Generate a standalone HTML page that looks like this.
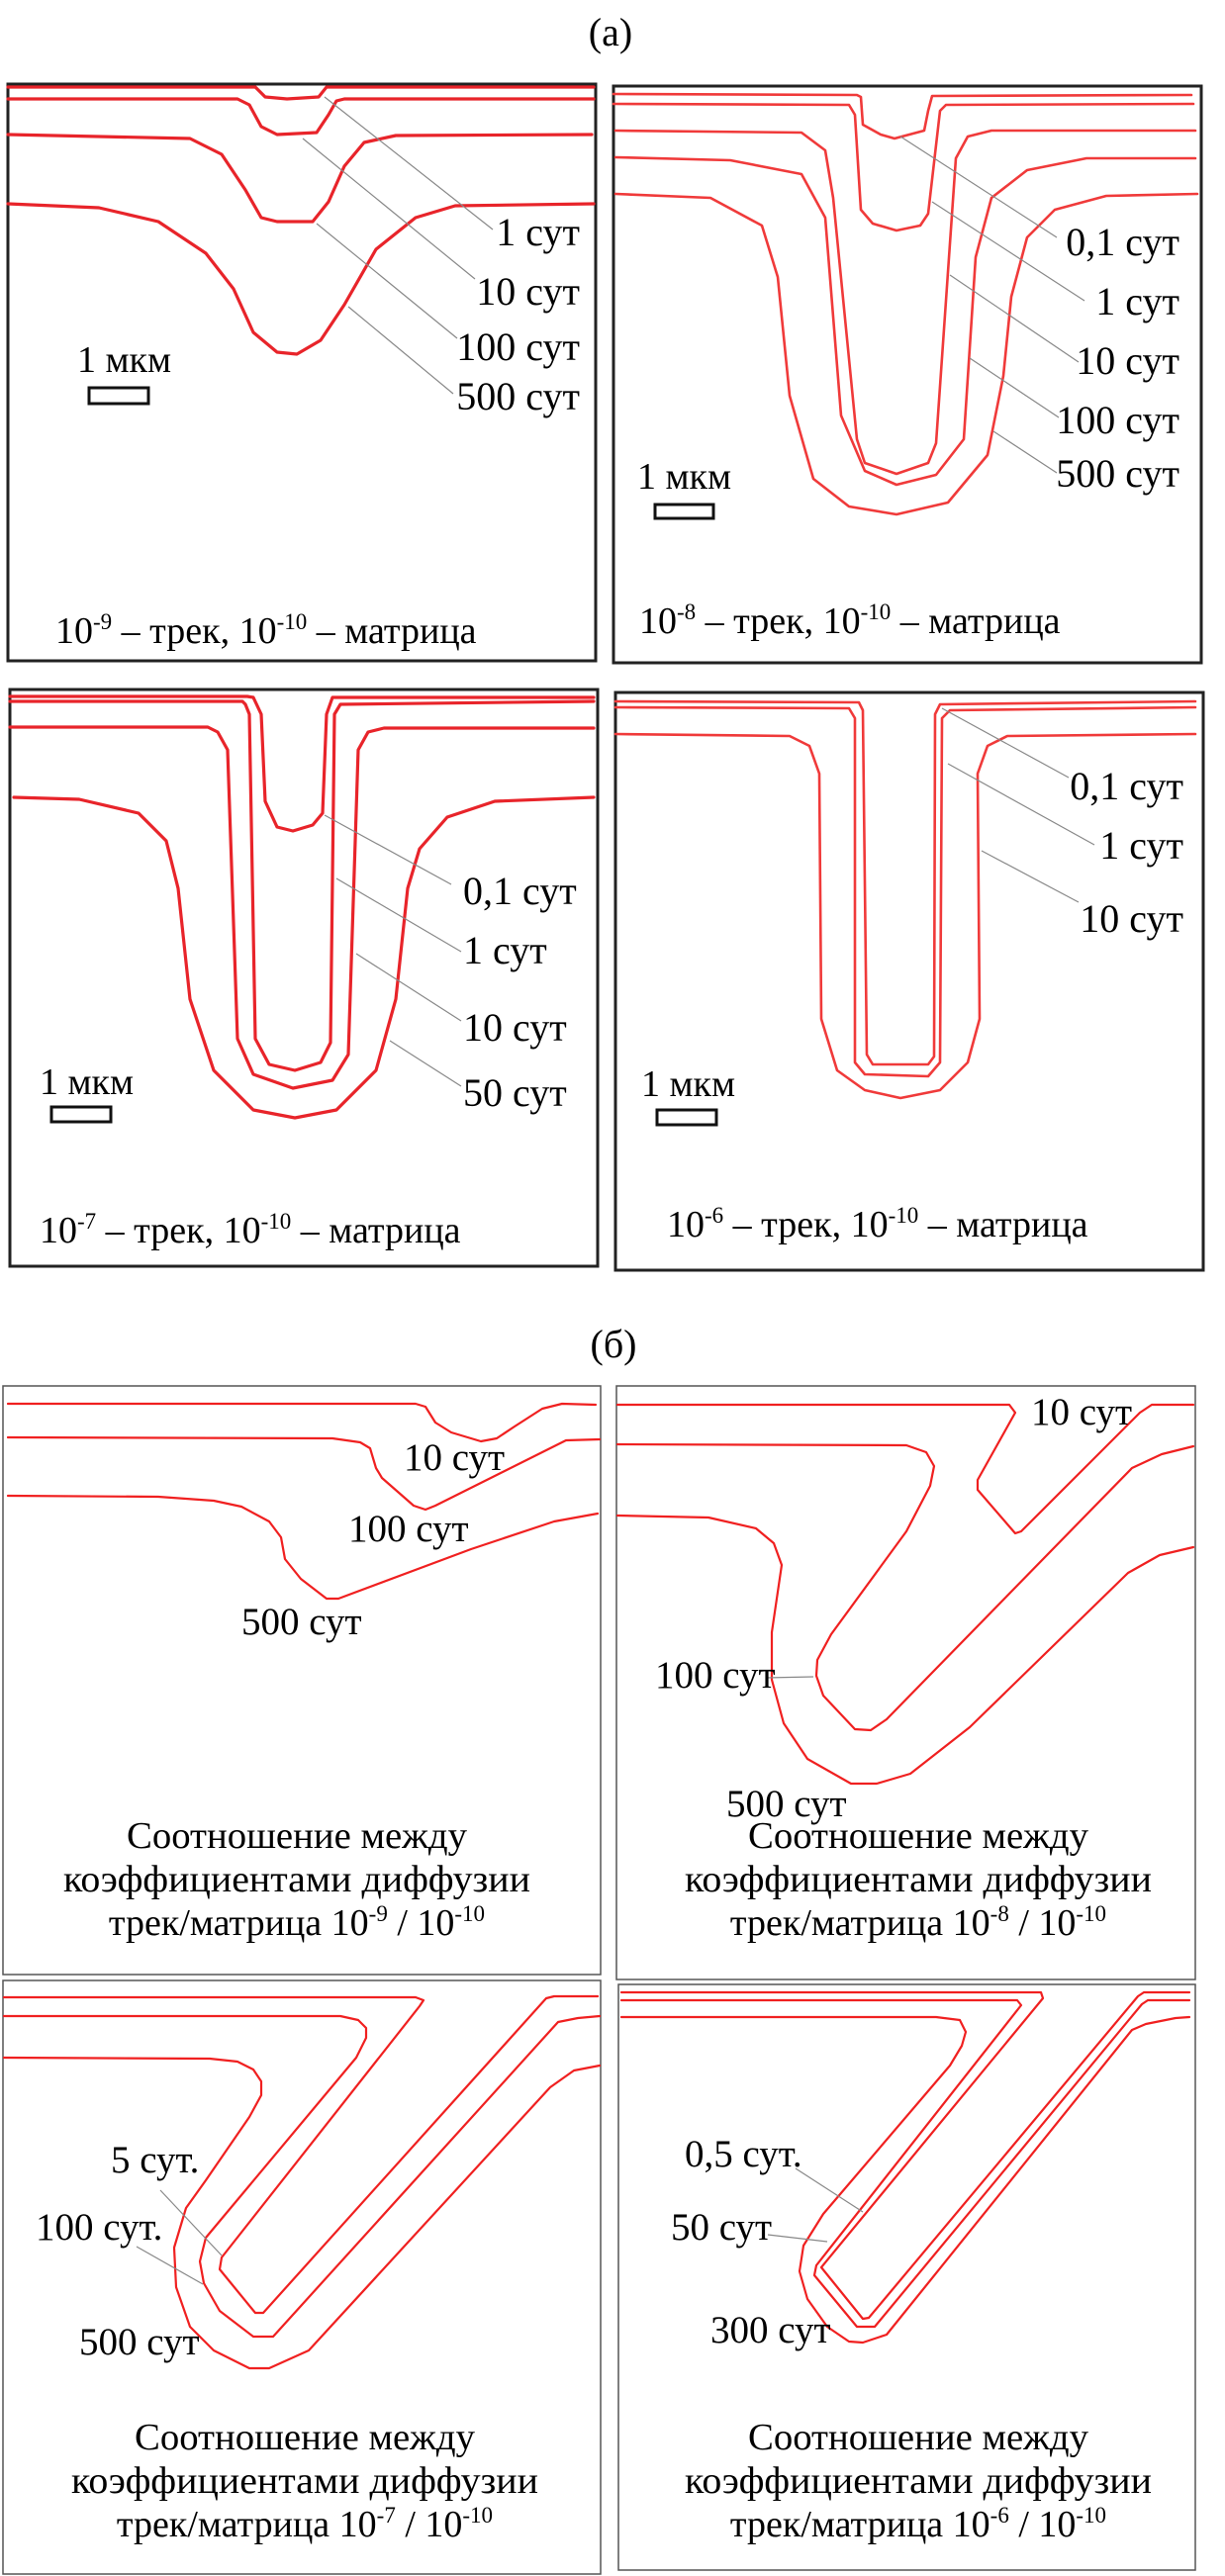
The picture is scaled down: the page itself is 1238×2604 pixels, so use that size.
<!DOCTYPE html>
<html><head><meta charset="utf-8"><style>
html,body{margin:0;padding:0;background:#fff}
svg{display:block}
svg text{font-family:"Liberation Serif","Times New Roman","DejaVu Serif",serif;fill:#000}
.ra{stroke:#e8242a;stroke-width:3.2;fill:none;stroke-linejoin:round;stroke-linecap:round}
.rl{stroke:#f03a3a;stroke-width:2.6;fill:none;stroke-linejoin:round;stroke-linecap:round}
.rb{stroke:#f02020;stroke-width:2.2;fill:none;stroke-linejoin:round;stroke-linecap:round}
.ld{stroke:#888;stroke-width:1.2;fill:none}
.bx{fill:none;stroke:#222;stroke-width:3}
.bt{fill:none;stroke:#555;stroke-width:1.5}
.sb{fill:none;stroke:#111;stroke-width:3}
</style></head><body>
<svg width="1238" height="2604" viewBox="0 0 1238 2604" xmlns="http://www.w3.org/2000/svg" font-family="Liberation Serif, Times New Roman, DejaVu Serif, serif">
<rect width="1238" height="2604" fill="#fff"/>
<text x="617" y="46" font-size="40" text-anchor="middle">(а)</text>

<!-- a1 -->
<rect class="bx" x="8" y="85" width="594" height="583"/>
<polyline class="ra" points="8,88 258,88 268,98 290,100 322,98 330,88 600,88"/>
<polyline class="ra" points="8,100 240,100 252,106 264,128 280,136 320,134 332,116 340,102 348,100 600,100"/>
<polyline class="ra" points="8,136 192,140 224,156 248,192 264,220 280,224 316,224 332,204 348,168 368,144 400,137 598,136"/>
<polyline class="ra" points="8,206 100,210 160,224 208,256 236,292 256,336 280,356 300,358 324,344 348,308 380,252 420,220 460,208 600,206"/>
<line class="ld" x1="328" y1="98" x2="498" y2="232"/>
<line class="ld" x1="306" y1="140" x2="480" y2="282"/>
<line class="ld" x1="320" y1="226" x2="462" y2="342"/>
<line class="ld" x1="352" y1="310" x2="458" y2="398"/>
<g font-size="40" text-anchor="end">
<text x="586" y="248">1 сут</text><text x="586" y="308">10 сут</text><text x="586" y="364">100 сут</text><text x="586" y="414">500 сут</text></g>
<text x="78" y="376" font-size="38">1 мкм</text>
<rect class="sb" x="90" y="392" width="60" height="16"/>
<text x="56" y="650" font-size="38">10<tspan font-size="23" dy="-14">-9</tspan><tspan dy="14"> – трек, 10</tspan><tspan font-size="23" dy="-14">-10</tspan><tspan dy="14"> – матрица</tspan></text>

<!-- a2 -->
<rect class="bx" x="620" y="87" width="594" height="583"/>
<polyline class="rl" points="620,95 866,96 870,98 872,126 890,136 904,140 934,132 938,112 942,97 1204,96"/>
<polyline class="rl" points="620,105 858,106 864,116 870,212 882,226 906,233 930,228 938,216 950,112 956,106 1206,105"/>
<polyline class="rl" points="622,132 810,134 834,152 842,200 866,444 874,468 906,479 938,468 946,448 966,160 978,138 1002,132 1208,132"/>
<polyline class="rl" points="622,159 738,162 810,176 834,220 850,420 874,476 906,490 946,480 974,444 986,260 1002,200 1038,172 1098,160 1208,160"/>
<polyline class="rl" points="622,196 718,200 770,228 786,280 798,400 822,484 858,512 906,520 958,508 998,460 1014,380 1022,300 1038,240 1066,212 1118,198 1210,196"/>
<line class="ld" x1="910" y1="138" x2="1068" y2="240"/>
<line class="ld" x1="942" y1="204" x2="1096" y2="304"/>
<line class="ld" x1="960" y1="278" x2="1090" y2="366"/>
<line class="ld" x1="980" y1="362" x2="1070" y2="422"/>
<line class="ld" x1="1004" y1="436" x2="1068" y2="478"/>
<g font-size="40" text-anchor="end">
<text x="1192" y="258">0,1 сут</text><text x="1192" y="318">1 сут</text><text x="1192" y="378">10 сут</text><text x="1192" y="438">100 сут</text><text x="1192" y="492">500 сут</text></g>
<text x="644" y="494" font-size="38">1 мкм</text>
<rect class="sb" x="662" y="510" width="59" height="14"/>
<text x="646" y="640" font-size="38">10<tspan font-size="23" dy="-14">-8</tspan><tspan dy="14"> – трек, 10</tspan><tspan font-size="23" dy="-14">-10</tspan><tspan dy="14"> – матрица</tspan></text>

<!-- a3 -->
<rect class="bx" x="10" y="697" width="594" height="583"/>
<polyline class="ra" points="10,704 250,704 256,705 264,722 268,810 280,836 296,840 316,834 326,822 330,722 336,705 600,705"/>
<polyline class="ra" points="10,709 245,709 248,712 252,722 258,1050 272,1076 298,1082 324,1074 334,1054 338,722 344,712 600,709"/>
<polyline class="ra" points="10,735 210,735 220,740 230,758 240,1050 256,1086 296,1100 336,1092 352,1066 362,758 372,740 388,736 600,736"/>
<polyline class="ra" points="14,806 80,808 140,822 168,850 180,898 192,1010 216,1082 256,1122 298,1130 340,1122 380,1082 400,1010 412,898 424,858 452,826 500,810 600,806"/>
<line class="ld" x1="328" y1="824" x2="456" y2="894"/>
<line class="ld" x1="340" y1="888" x2="466" y2="962"/>
<line class="ld" x1="360" y1="964" x2="466" y2="1032"/>
<line class="ld" x1="394" y1="1052" x2="466" y2="1098"/>
<g font-size="40">
<text x="468" y="914">0,1 сут</text><text x="468" y="974">1 сут</text><text x="468" y="1052">10 сут</text><text x="468" y="1118">50 сут</text></g>
<text x="40" y="1106" font-size="38">1 мкм</text>
<rect class="sb" x="52" y="1119" width="60" height="15"/>
<text x="40" y="1256" font-size="38">10<tspan font-size="23" dy="-14">-7</tspan><tspan dy="14"> – трек, 10</tspan><tspan font-size="23" dy="-14">-10</tspan><tspan dy="14"> – матрица</tspan></text>

<!-- a4 -->
<rect class="bx" x="622" y="700" width="594" height="584"/>
<polyline class="rl" points="622,709 868,710 872,718 876,1066 882,1076 938,1076 944,1068 945,722 950,712 1208,709"/>
<polyline class="rl" points="622,715 858,716 864,726 864,1074 874,1086 938,1088 950,1074 952,726 960,718 1208,715"/>
<polyline class="rl" points="622,742 798,744 818,754 828,782 830,1030 846,1082 874,1102 910,1110 950,1102 978,1074 990,1030 988,782 998,754 1018,744 1208,742"/>
<line class="ld" x1="952" y1="716" x2="1080" y2="786"/>
<line class="ld" x1="958" y1="772" x2="1106" y2="854"/>
<line class="ld" x1="992" y1="860" x2="1090" y2="912"/>
<g font-size="40" text-anchor="end">
<text x="1196" y="808">0,1 сут</text><text x="1196" y="868">1 сут</text><text x="1196" y="942">10 сут</text></g>
<text x="648" y="1108" font-size="38">1 мкм</text>
<rect class="sb" x="664" y="1122" width="60" height="15"/>
<text x="674" y="1250" font-size="38">10<tspan font-size="23" dy="-14">-6</tspan><tspan dy="14"> – трек, 10</tspan><tspan font-size="23" dy="-14">-10</tspan><tspan dy="14"> – матрица</tspan></text>

<text x="620" y="1372" font-size="40" text-anchor="middle">(б)</text>

<!-- b1 -->
<rect class="bt" x="3" y="1401" width="604" height="595"/>
<polyline class="rb" points="8,1419 420,1419 430,1422 440,1438 456,1448 486,1457 502,1454 520,1442 548,1424 568,1419 602,1420"/>
<polyline class="rb" points="8,1453 336,1454 364,1458 374,1464 380,1484 386,1494 418,1522 430,1526 440,1522 548,1468 572,1456 606,1455"/>
<polyline class="rb" points="8,1512 160,1513 216,1517 244,1523 272,1538 284,1554 288,1576 304,1596 330,1616 342,1616 476,1566 560,1538 604,1530"/>
<g font-size="39"><text x="408" y="1486">10 сут</text><text x="352" y="1558">100 сут</text><text x="244" y="1652">500 сут</text></g>
<g font-size="38" text-anchor="middle">
<text x="300" y="1868" textLength="344" lengthAdjust="spacingAndGlyphs">Соотношение между</text>
<text x="300" y="1912" textLength="472" lengthAdjust="spacingAndGlyphs">коэффициентами диффузии</text>
<text x="300" y="1956">трек/матрица 10<tspan font-size="23" dy="-14">-9</tspan><tspan dy="14"> / 10</tspan><tspan font-size="23" dy="-14">-10</tspan></text></g>

<!-- b2 -->
<rect class="bt" x="623" y="1401" width="585" height="600"/>
<polyline class="rb" points="624,1420 1020,1420 1026,1428 988,1496 988,1506 1026,1550 1032,1548 1152,1428 1164,1420 1206,1420"/>
<polyline class="rb" points="624,1460 916,1461 936,1468 944,1482 940,1502 916,1548 840,1652 826,1678 825,1694 832,1714 864,1748 880,1749 896,1738 1144,1484 1174,1470 1206,1462"/>
<polyline class="rb" points="624,1532 716,1534 764,1545 782,1560 790,1582 780,1650 780,1698 792,1742 816,1778 860,1803 886,1803 920,1793 980,1746 1140,1590 1172,1572 1206,1564"/>
<line class="ld" x1="774" y1="1696" x2="822" y2="1695"/>
<g font-size="39"><text x="1042" y="1440">10 сут</text><text x="662" y="1706">100 сут</text><text x="734" y="1836">500 сут</text></g>
<g font-size="38" text-anchor="middle">
<text x="928" y="1868" textLength="344" lengthAdjust="spacingAndGlyphs">Соотношение между</text>
<text x="928" y="1912" textLength="472" lengthAdjust="spacingAndGlyphs">коэффициентами диффузии</text>
<text x="928" y="1956">трек/матрица 10<tspan font-size="23" dy="-14">-8</tspan><tspan dy="14"> / 10</tspan><tspan font-size="23" dy="-14">-10</tspan></text></g>

<!-- b3 -->
<rect class="bt" x="3" y="2002" width="604" height="600"/>
<polyline class="rb" points="4,2019 420,2019 428,2022 424,2028 224,2282 222,2294 258,2338 266,2338 552,2020 560,2018 604,2018"/>
<polyline class="rb" points="4,2038 344,2038 362,2042 370,2050 370,2060 360,2080 208,2262 202,2286 206,2308 222,2336 256,2362 276,2362 564,2044 584,2040 606,2038"/>
<polyline class="rb" points="4,2080 212,2081 240,2084 256,2092 264,2104 264,2118 252,2140 208,2204 188,2232 176,2272 178,2312 192,2352 216,2376 252,2394 272,2394 312,2376 556,2110 580,2093 606,2088"/>
<line class="ld" x1="162" y1="2214" x2="224" y2="2280"/>
<line class="ld" x1="138" y1="2271" x2="205" y2="2309"/>
<g font-size="39"><text x="112" y="2196">5 сут.</text><text x="36" y="2264">100 сут.</text><text x="80" y="2380">500 сут</text></g>
<g font-size="38" text-anchor="middle">
<text x="308" y="2476" textLength="344" lengthAdjust="spacingAndGlyphs">Соотношение между</text>
<text x="308" y="2520" textLength="472" lengthAdjust="spacingAndGlyphs">коэффициентами диффузии</text>
<text x="308" y="2564">трек/матрица 10<tspan font-size="23" dy="-14">-7</tspan><tspan dy="14"> / 10</tspan><tspan font-size="23" dy="-14">-10</tspan></text></g>

<!-- b4 -->
<rect class="bt" x="625" y="2006" width="583" height="592"/>
<polyline class="rb" points="628,2014 1052,2014 1054,2020 830,2292 872,2344 878,2343 1150,2018 1156,2014 1202,2014"/>
<polyline class="rb" points="628,2022 1028,2022 1032,2027 825,2290 823,2300 866,2352 884,2352 1154,2026 1160,2022 1202,2022"/>
<polyline class="rb" points="628,2039 946,2039 970,2042 976,2054 972,2068 960,2088 832,2238 812,2270 808,2296 816,2324 836,2352 858,2367 872,2368 896,2360 1144,2052 1158,2046 1188,2040 1202,2039"/>
<line class="ld" x1="804" y1="2192" x2="872" y2="2236"/>
<line class="ld" x1="776" y1="2259" x2="836" y2="2266"/>
<g font-size="39"><text x="692" y="2190">0,5 сут.</text><text x="678" y="2264">50 сут</text><text x="718" y="2368">300 сут</text></g>
<g font-size="38" text-anchor="middle">
<text x="928" y="2476" textLength="344" lengthAdjust="spacingAndGlyphs">Соотношение между</text>
<text x="928" y="2520" textLength="472" lengthAdjust="spacingAndGlyphs">коэффициентами диффузии</text>
<text x="928" y="2564">трек/матрица 10<tspan font-size="23" dy="-14">-6</tspan><tspan dy="14"> / 10</tspan><tspan font-size="23" dy="-14">-10</tspan></text></g>
</svg>
</body></html>
